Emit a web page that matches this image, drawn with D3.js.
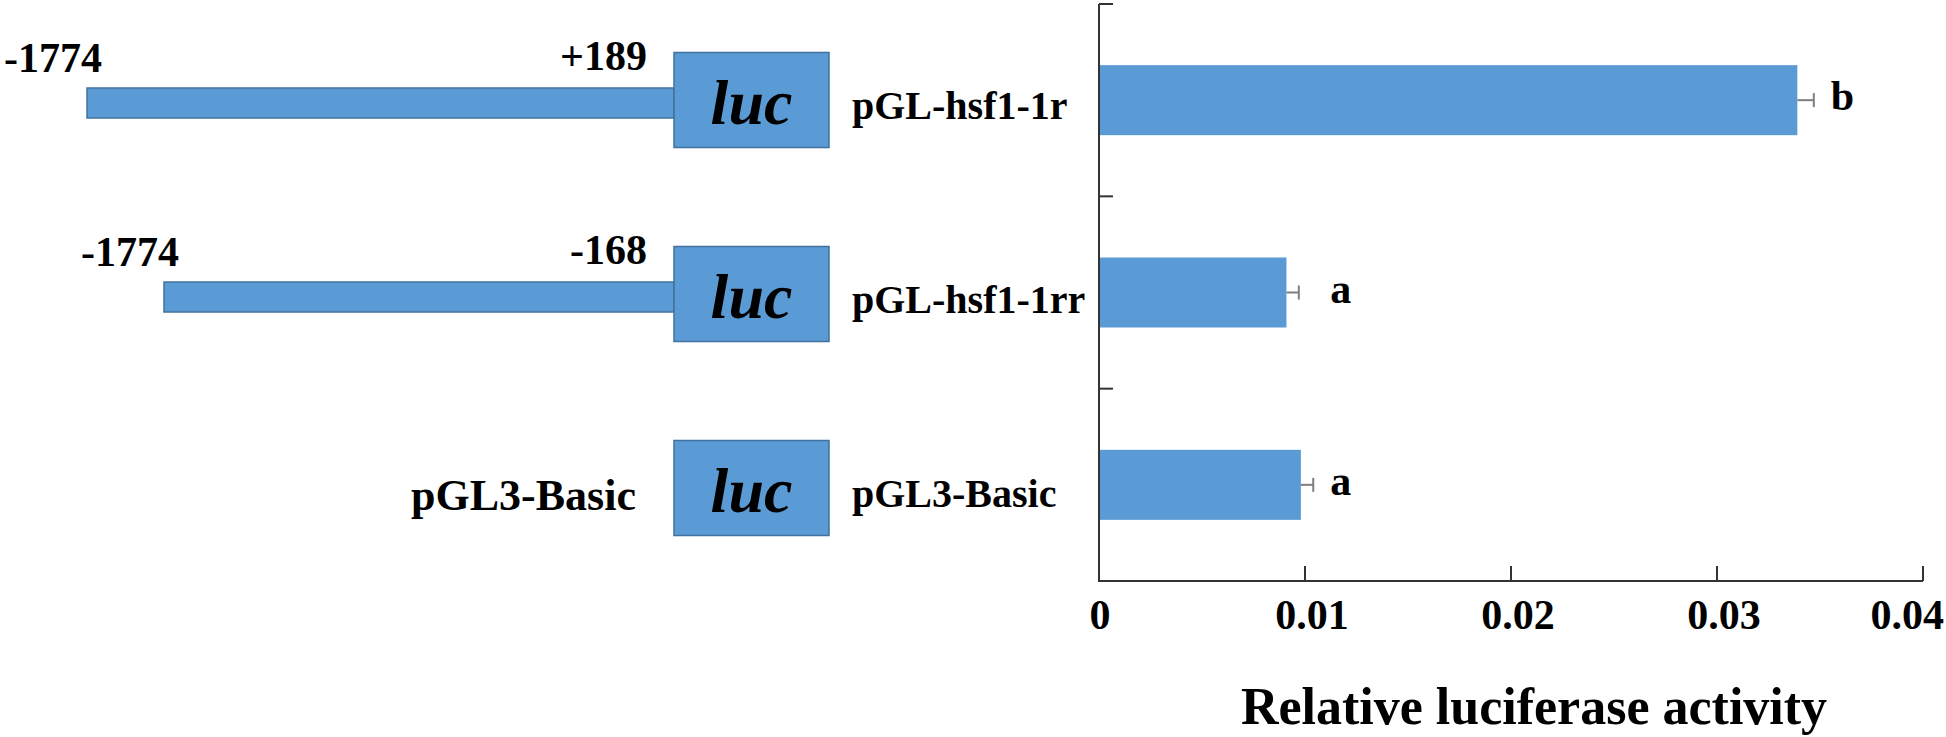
<!DOCTYPE html>
<html>
<head>
<meta charset="utf-8">
<script src="https://cdn.jsdelivr.net/npm/d3@7"></script>
<style>
    body { margin: 0; background: #fff; }
    text { font-family: "Liberation Serif", "Times New Roman", serif; font-weight: bold; fill: #000; }
    .axis-line { stroke: #333; stroke-width: 2; fill: none; }
    .err { stroke: #7f7f7f; stroke-width: 2; }
    .construct { fill: #5b9bd5; stroke: #41719c; stroke-width: 1.5; }
    .bar { fill: #5b9bd5; }
</style>
</head>
<body>
<div id="chart"></div>
<script>
const constructs = ["pGL-hsf1-1r", "pGL-hsf1-1rr", "pGL3-Basic"];
const activity = [0.0339, 0.0091, 0.0098];
const errors = [0.0008, 0.0006, 0.0006];
const groups = ["b", "a", "a"];
const promoterStart = [-1774, -1774, null];
const promoterEnd = [189, -168, null];
const xTicks = [0, 0.01, 0.02, 0.03, 0.04];
const xTitle = "Relative luciferase activity";

const width = 1946;
const height = 737;

const plotLeft = 1099;
const plotRight = 1923;
const plotTop = 4;
const plotBottom = 581;
const tickLength = 15;

const boxLeft = 674;
const boxWidth = 155;
const boxHeight = 95;
const promoterHeight = 30;

const svg = d3.select("#chart")
    .append("svg")
    .attr("width", width)
    .attr("height", height);

const x = d3.scaleLinear()
    .domain([0, d3.max(xTicks)])
    .range([plotLeft, plotRight]);

const y = d3.scaleBand()
    .domain(constructs)
    .range([plotTop, plotBottom])
    .paddingInner(0.636)
    .paddingOuter(0.318);

const rowY = d3.scalePoint()
    .domain(constructs)
    .range([100, 488]);

// promoter length -> drawn length of the thin bar
const lengths = promoterStart.map((s, i) => s === null ? null : promoterEnd[i] - s).filter(l => l !== null);
const lenScale = d3.scaleLinear()
    .domain(d3.extent(lengths))
    .range([510, 587]);

const fmtPos = v => v > 0 ? "+" + v : String(v);

// ---- construct diagrams ----
constructs.forEach((c, i) => {
    const cy = rowY(c);

    if (promoterStart[i] !== null) {
        const len = lenScale(promoterEnd[i] - promoterStart[i]);
        svg.append("rect")
            .attr("class", "construct")
            .attr("x", boxLeft - len)
            .attr("y", cy - promoterHeight / 2 + 3)
            .attr("width", len)
            .attr("height", promoterHeight);

        svg.append("text")
            .attr("x", boxLeft - len + 15)
            .attr("y", cy - 28)
            .attr("text-anchor", "end")
            .attr("font-size", 42)
            .text(fmtPos(promoterStart[i]));

        svg.append("text")
            .attr("x", boxLeft - 27)
            .attr("y", cy - 30)
            .attr("text-anchor", "end")
            .attr("font-size", 42)
            .text(fmtPos(promoterEnd[i]));
    } else {
        svg.append("text")
            .attr("x", boxLeft - 38)
            .attr("y", cy + 22)
            .attr("text-anchor", "end")
            .attr("font-size", 44)
            .text(c);
    }

    svg.append("rect")
        .attr("class", "construct")
        .attr("x", boxLeft)
        .attr("y", cy - boxHeight / 2)
        .attr("width", boxWidth)
        .attr("height", boxHeight);

    svg.append("text")
        .attr("x", boxLeft + boxWidth / 2)
        .attr("y", cy + 24)
        .attr("text-anchor", "middle")
        .attr("font-size", 64)
        .attr("font-style", "italic")
        .text("luc");

    svg.append("text")
        .attr("x", boxLeft + boxWidth + 23)
        .attr("y", cy + 19)
        .attr("font-size", 40)
        .text(c);
});

// ---- bars ----
svg.selectAll("rect.bar")
    .data(constructs)
    .join("rect")
    .attr("class", "bar")
    .attr("x", x(0))
    .attr("y", d => y(d))
    .attr("width", (d, i) => x(activity[i]) - x(0))
    .attr("height", y.bandwidth());

constructs.forEach((c, i) => {
    const cy = y(c) + y.bandwidth() / 2;
    const x0 = x(activity[i]);
    const x1 = x(activity[i] + errors[i]);
    svg.append("line").attr("class", "err")
        .attr("x1", x0).attr("x2", x1).attr("y1", cy).attr("y2", cy);
    svg.append("line").attr("class", "err")
        .attr("x1", x1).attr("x2", x1).attr("y1", cy - 7).attr("y2", cy + 7);
});

// significance letters line up per group
const groupEdge = {};
groups.forEach((g, i) => {
    groupEdge[g] = Math.max(groupEdge[g] || 0, activity[i] + errors[i]);
});
svg.selectAll("text.sig")
    .data(constructs)
    .join("text")
    .attr("class", "sig")
    .attr("x", (d, i) => x(groupEdge[groups[i]]) + 17)
    .attr("y", d => y(d) + y.bandwidth() / 2 + 10)
    .attr("font-size", 42)
    .text((d, i) => groups[i]);

// ---- axes ----
svg.append("path")
    .attr("class", "axis-line")
    .attr("d", `M${plotLeft},${plotTop}V${plotBottom}H${x(d3.max(xTicks))}`);

const boundaries = d3.range(constructs.length).map(i => plotTop + i * y.step());
boundaries.forEach(b => {
    svg.append("line").attr("class", "axis-line")
        .attr("x1", plotLeft).attr("x2", plotLeft + 14)
        .attr("y1", b).attr("y2", b);
});

xTicks.forEach((t, i) => {
    if (t > 0) {
        svg.append("line").attr("class", "axis-line")
            .attr("x1", x(t)).attr("x2", x(t))
            .attr("y1", plotBottom).attr("y2", plotBottom - tickLength);
    }
    const last = i === xTicks.length - 1;
    svg.append("text")
        .attr("x", last ? width - 2 : x(t) + (t > 0 ? 7 : 1))
        .attr("y", 629)
        .attr("text-anchor", last ? "end" : "middle")
        .attr("font-size", 42)
        .text(String(t));
});

svg.append("text")
    .attr("x", 1534)
    .attr("y", 724)
    .attr("text-anchor", "middle")
    .attr("font-size", 52)
    .text(xTitle);
</script>
</body>
</html>
